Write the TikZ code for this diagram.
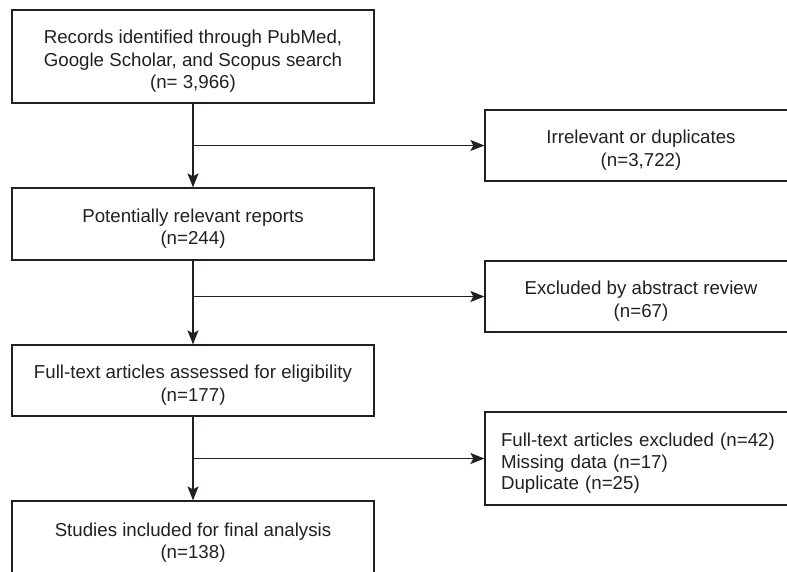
\documentclass[tikz,border=0pt]{standalone}
\usepackage{fontspec}
\setmainfont{Liberation Sans}
\usetikzlibrary{arrows.meta}
\definecolor{ink}{HTML}{231F20}
\newcommand{\topstrut}{\rule{0pt}{23pt}}
\begin{document}
\begin{tikzpicture}[x=1pt,y=-1pt,
  box/.style={draw=ink,line width=1.2pt,text=ink,inner sep=0pt,align=center,
    font=\fontsize{18.7}{22.5}\selectfont},
  arr/.style={draw=ink,line width=1.2pt,-{Stealth[length=14pt,width=11pt,inset=3pt]}}]
\useasboundingbox (0,0) rectangle (787,571);
\node[box,minimum width=362,minimum height=93] (b1) at (193,56.5)
  {\topstrut Records identified through PubMed,\\Google Scholar, and Scopus search\\(n= 3,966)};
\node[box,minimum width=362,minimum height=72] (b2) at (193,224)
  {\topstrut Potentially relevant reports\\(n=244)};
\node[box,minimum width=362,minimum height=71] (b3) at (193,380.5)
  {\topstrut Full-text articles assessed for eligibility\\(n=177)};
\node[box,minimum width=362,minimum height=74] (b4) at (193,538)
  {\topstrut Studies included for final analysis\\(n=138)};
\node[box,minimum width=312,minimum height=71] (r1) at (641,145.5)
  {\topstrut Irrelevant or duplicates\\(n=3,722)};
\node[box,minimum width=312,minimum height=71] (r2) at (641,296.5)
  {\topstrut Excluded by abstract review\\(n=67)};
\node[box,minimum width=312,minimum height=93,text width=280,align=left,
  inner xsep=16,font=\fontsize{18.7}{21.5}\selectfont] (r3) at (641,458.5)
  {\topstrut Full-text articles excluded (n=42)\\Missing data (n=17)\\Duplicate (n=25)};
\coordinate (j1) at (b1.south |- r1.west);
\coordinate (j2) at (b2.south |- r2.west);
\coordinate (j3) at (b3.south |- r3.west);
\draw[arr] (b1.south) -- (b2.north);
\draw[arr] (b2.south) -- (b3.north);
\draw[arr] (b3.south) -- (b4.north);
\draw[arr] (j1) -- (r1.west);
\draw[arr] (j2) -- (r2.west);
\draw[arr] (j3) -- (r3.west);
\end{tikzpicture}
\end{document}
